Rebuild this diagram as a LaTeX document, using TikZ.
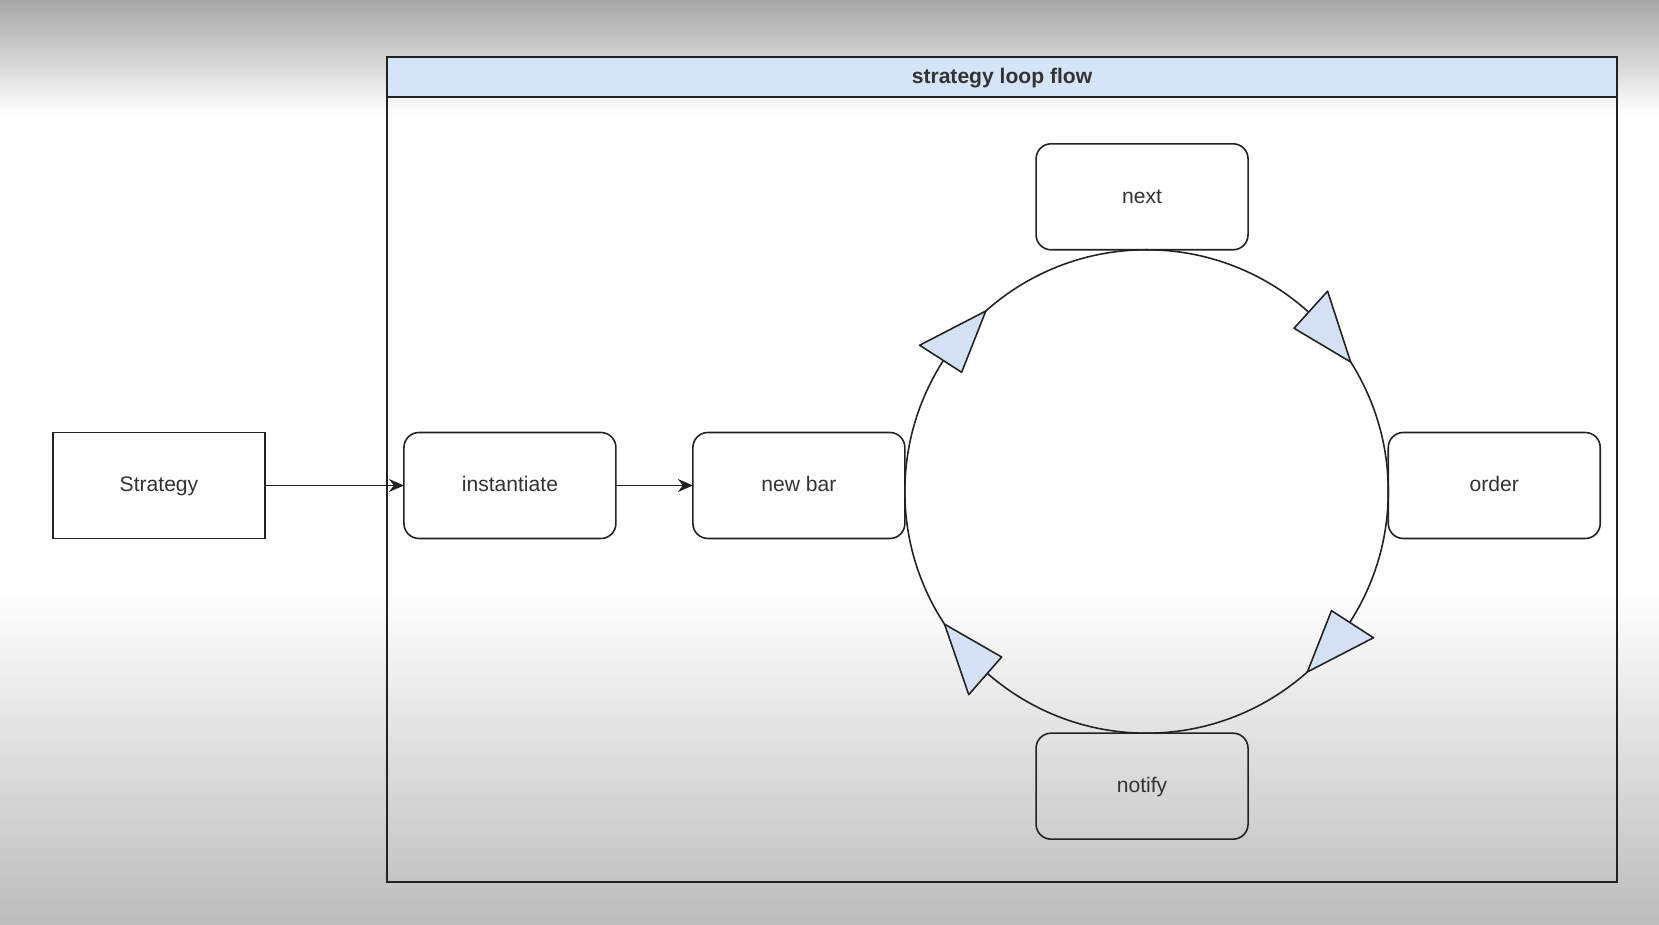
\documentclass[tikz,border=0pt]{standalone}
\usepackage{fontspec}
\setmainfont{Liberation Sans}
\usetikzlibrary{positioning, arrows.meta, calc}
\definecolor{boxline}{HTML}{222222}
\definecolor{labelgray}{HTML}{333333}
\definecolor{bandblue}{HTML}{D6E4F7}
\definecolor{tipblue}{HTML}{D4E1F5}
\definecolor{shadetop}{HTML}{A6A6A6}
\definecolor{shadebot}{HTML}{BCBCBC}
\tikzset{
  flow/.style={
	x=0.02cm, y=0.02cm, % one unit is one pixel of the screen
	color=boxline, text=labelgray,
	font=\fontsize{12}{14}\selectfont,
	line width=0.9pt,
	>={Stealth[length=0.3cm, width=0.26cm]}, % filled arrow heads
  },
  plainbox/.style={draw, minimum width=4.24cm, minimum height=2.12cm, inner sep=0pt, outer sep=0pt,
	text height=0.92em, text depth=0.2em},
  roundbox/.style={plainbox, rounded corners=0.3cm},
  ring/.style={draw, circle, minimum size=9.67cm, inner sep=0pt, outer sep=0pt},
  frame/.style={draw, minimum width=24.6cm, minimum height=16.5cm, inner sep=0pt},
  band/.style={draw, fill=bandblue, minimum width=24.6cm, minimum height=0.8cm, inner sep=0pt,
	text height=0.92em, text depth=0.2em, font=\fontsize{12}{14}\selectfont\bfseries},
  tip/.style={draw, fill=tipblue, line join=round},
}

\begin{document}
\begin{tikzpicture}[flow]
% screen background
\useasboundingbox (0,0) rectangle (1659,925);
\fill[white] (0,335) rectangle (1659,810);
\shade[top color=shadetop, bottom color=white] (0,810) rectangle (1659,925);
\shade[top color=white, bottom color=shadebot] (0,0) rectangle (1659,335);

% container
\node[frame] (frame) at (1002,455.5) {};
\node[band, anchor=north] (band) at (frame.north) {strategy loop flow};

\node[plainbox] (strategy) at (159,439.5) {Strategy};
\node[roundbox, right=2.78cm of strategy] (instantiate) {instantiate};
\node[roundbox, right=1.54cm of instantiate] (newbar) {new bar};
\node[ring, right=0cm of newbar, yshift=-0.12cm] (ring) {};
\node[roundbox, above=0cm of ring, xshift=-0.09cm] (next) {next};
\node[roundbox, right=0cm of ring, yshift=0.12cm] (order) {order};
\node[roundbox, below=0cm of ring, xshift=-0.09cm] (notify) {notify};

\draw[->] (strategy) -- (instantiate);
\draw[->] (instantiate) -- (newbar);

% heads on the loop, clockwise
\foreach \a in {131.7, 32.4, -48.3, 213.3}
  \filldraw[tip] ($(ring.center)+(\a:241.7)$) -- ($(ring.center)+(\a+15.5:220)$)
	-- ($(ring.center)+(\a+15.5:270)$) -- cycle;
\end{tikzpicture}
\end{document}
